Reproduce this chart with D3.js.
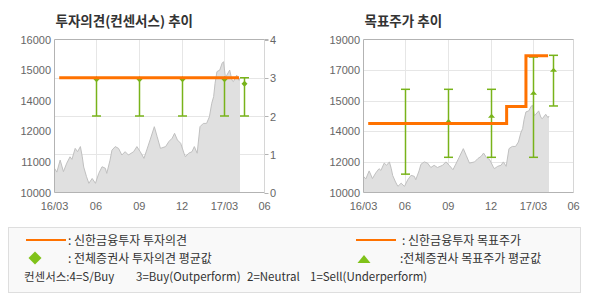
<!DOCTYPE html>
<html><head><meta charset="utf-8">
<script src="https://cdn.jsdelivr.net/npm/d3@7"></script>
<style>
body{margin:0;background:#fff;}
svg{display:block;}
.num{font-family:"Liberation Sans",Arial,sans-serif;font-size:11px;fill:#666;}
.kr{font-family:"Noto Sans CJK KR",sans-serif;}
</style>
</head><body>
<svg id="c" width="590" height="300"></svg>
<script>
// ---- data ----
const priceDates = ["2016-03-05","2016-03-10","2016-03-17","2016-03-24","2016-03-31","2016-04-07","2016-04-11","2016-04-18","2016-04-23","2016-04-29",
"2016-05-03","2016-05-06","2016-05-12","2016-05-17","2016-05-24","2016-05-31","2016-06-07","2016-06-14","2016-06-21","2016-06-24",
"2016-07-01","2016-07-05","2016-07-12","2016-07-19","2016-07-26","2016-08-02","2016-08-09","2016-08-20","2016-08-27","2016-09-03",
"2016-09-11","2016-09-17","2016-09-24","2016-10-03","2016-10-09","2016-10-16","2016-10-27","2016-11-03","2016-11-10","2016-11-15",
"2016-11-21","2016-11-28","2016-12-05","2016-12-08","2016-12-15","2016-12-22","2016-12-27","2017-01-02","2017-01-08","2017-01-15",
"2017-01-22","2017-01-28","2017-02-02","2017-02-06","2017-02-09","2017-02-13","2017-02-19","2017-02-24","2017-02-27","2017-03-03",
"2017-03-06","2017-03-12","2017-03-17","2017-03-20","2017-03-27","2017-04-01","2017-04-03"];
const priceValues = [10950,10800,11270,10820,11150,11400,11300,11730,11600,11800,
11400,11000,10620,10360,10550,10360,10750,11010,10950,10750,
11270,11660,11800,11730,11470,11600,11470,11600,11800,11600,
11340,11670,12060,12580,12190,11730,11800,12000,12130,12320,
12060,11930,11540,11400,11540,11600,11800,11540,12580,12710,
12710,12970,13500,13760,14280,14740,14800,15070,15130,14520,
14600,14800,14400,14350,14600,14400,14500];

const opinionDates = ["2016-03-15","2017-04-01"];
const opinionValues = [3,3];
const targetDates = ["2016-03-15","2017-01-03","2017-02-13","2017-04-01"];
const targetValues = [14060,15060,18050,18050];

const consensusDates = ["2016-06-01","2016-09-01","2016-12-01","2017-03-01","2017-04-12"];
const opinionHigh = [3,3,3,3,3];
const opinionLow = [2,2,2,2,2];
const opinionMean = [2.96,2.96,2.96,2.96,2.84];
const targetHigh = [16070,16070,16070,17970,18070];
const targetLow = [11080,12070,12070,12070,15090];
const targetMean = [14090,14210,14520,15870,17220];

const xDomain = ["2016-03-05","2017-05-25"];
const xTickDates = ["2016-03-05","2016-06-01","2016-09-01","2016-12-01","2017-03-01","2017-05-25"];
const xTickLabels = ["16/03","06","09","12","17/03","06"];
const leftPriceTicks = ["10000","11000","12000","14000","15000","16000"];
const opinionTicks = [0,1,2,3,4];
const rightPriceTicks = ["10000","12000","14000","15000","17000","19000"];

// ---- drawing ----
const parse = d3.timeParse("%Y-%m-%d");
const svg = d3.select("#c");
const ORANGE = "#ff7200", GREEN = "#78b31a", AXIS = "#b3b3b3", GRID = "#e6e6e6";
const yTop = 39.5, yBot = 192.5;

function panel(x0, x1, title, priceDomain, priceTicks) {
  const g = svg.append("g");
  const x = d3.scaleTime().domain(xDomain.map(parse)).range([x0, x1]);
  const y = d3.scaleLinear().domain(priceDomain).range([yBot, yTop]);
  const yl = d3.scalePoint().domain(priceTicks).range([yBot, yTop]);
  g.append("text").attr("class","kr").attr("x", x0 + 1).attr("y", 26)
    .attr("font-size", 13.5).attr("font-weight", "bold").attr("fill", "#333").text(title);
  g.append("g").attr("class","vgrid").selectAll("line").data(xTickDates.slice(1, -1).map(parse)).join("line")
    .attr("x1", d => Math.round(x(d)) + 0.5).attr("x2", d => Math.round(x(d)) + 0.5)
    .attr("y1", yTop).attr("y2", yBot).attr("stroke", GRID);
  g.append("g").selectAll("text").data(xTickDates).join("text").attr("class","num")
    .attr("x", d => x(parse(d))).attr("y", 210).attr("text-anchor", "middle")
    .attr("font-size", 11.5).text((d, i) => xTickLabels[i]);
  const pts = priceDates.map((d, i) => [parse(d), priceValues[i]]);
  g.append("path").attr("class","area").datum(pts)
    .attr("d", d3.area().x(d => x(d[0])).y0(yBot).y1(d => y(d[1])))
    .attr("fill", "#e0e0e0");
  g.append("path").datum(pts)
    .attr("d", d3.line().x(d => x(d[0])).y(d => y(d[1])))
    .attr("fill", "none").attr("stroke", "#c0c0c0").attr("stroke-width", 1);
  g.append("g").selectAll("text").data(priceTicks).join("text").attr("class","num")
    .attr("x", x0 - 3.5).attr("y", d => yl(d) + 4).attr("text-anchor", "end")
    .attr("font-size", 11.5).text(d => d);
  return {g, x, y, yl};
}

// Left panel
const L = panel(54.5, 264.5, "투자의견(컨센서스) 추이", [10000, 16000], leftPriceTicks);
const yo = d3.scaleLinear().domain([0, 4]).range([yBot, yTop]);
L.g.insert("g", ".area").selectAll("line").data(opinionTicks.slice(1, -1)).join("line")
  .attr("x1", 54.5).attr("x2", 268).attr("y1", d => Math.round(yo(d)) + 0.5).attr("y2", d => Math.round(yo(d)) + 0.5)
  .attr("stroke", GRID);
L.g.append("g").selectAll("line").data(opinionTicks).join("line")
  .attr("x1", 264.5).attr("x2", 268.5).attr("y1", d => Math.round(yo(d)) + 0.5).attr("y2", d => Math.round(yo(d)) + 0.5)
  .attr("stroke", AXIS);
L.g.append("g").selectAll("text").data(opinionTicks).join("text").attr("class","num")
  .attr("x", 270).attr("y", d => yo(d) + 4.5).attr("font-size", 12).text(d => d);
L.g.append("path").attr("d", "M54.5,39.5H268.5").attr("stroke", AXIS).attr("fill","none");
L.g.append("path").attr("d", "M264.5,39.5V192.5").attr("stroke", "#d6d6d6").attr("fill","none");
L.g.append("path").attr("d", "M54.5,39.5V192.5H264.5").attr("stroke", AXIS).attr("fill","none");

const diamond = s => `M0,${-s}L${s},0L0,${s}L${-s},0Z`;
const tri = (w, h) => `M0,${-h / 2}L${w / 2},${h / 2}L${-w / 2},${h / 2}Z`;

function errorBars(P, yy, hi, lo, mean, markerPath) {
  const eg = P.g.append("g");
  consensusDates.forEach((d, i) => {
    const cx = Math.round(P.x(parse(d))) + 0.5;
    const yh = yy(hi[i]), ylo = yy(lo[i]);
    eg.append("line").attr("x1", cx).attr("x2", cx).attr("y1", yh).attr("y2", ylo)
      .attr("stroke", GREEN).attr("stroke-width", 1.5);
    [yh, ylo].forEach(v => eg.append("line").attr("x1", cx - 4.5).attr("x2", cx + 4.5)
      .attr("y1", v).attr("y2", v).attr("stroke", GREEN).attr("stroke-width", 1.5));
    eg.append("path").attr("transform", `translate(${cx},${yy(mean[i])})`)
      .attr("d", markerPath).attr("fill", GREEN);
  });
}
errorBars(L, yo, opinionHigh, opinionLow, opinionMean, diamond(3));
L.g.append("path").datum(opinionDates.map((d, i) => [parse(d), opinionValues[i]]))
  .attr("d", d3.line().x(d => L.x(d[0])).y(d => yo(d[1])))
  .attr("fill", "none").attr("stroke", ORANGE).attr("stroke-width", 3);

// Right panel
const R = panel(363.5, 573.5, "목표주가 추이", [10000, 19000], rightPriceTicks);
R.g.insert("g", ".area").selectAll("line").data(rightPriceTicks.slice(1, -1)).join("line")
  .attr("x1", 363.5).attr("x2", 573.5).attr("y1", d => Math.round(R.yl(d)) + 0.5).attr("y2", d => Math.round(R.yl(d)) + 0.5)
  .attr("stroke", GRID);
R.g.append("path").attr("d", "M573.5,39.5V192.5").attr("stroke", "#d6d6d6").attr("fill","none");
R.g.append("path").attr("d", "M363.5,39.5H573.5").attr("stroke", AXIS).attr("fill","none");
R.g.append("path").attr("d", "M363.5,39.5V192.5H573.5").attr("stroke", AXIS).attr("fill","none");
errorBars(R, R.y, targetHigh, targetLow, targetMean, tri(7, 4));
R.g.append("path").datum(targetDates.map((d, i) => [parse(d), targetValues[i]]))
  .attr("d", d3.line().curve(d3.curveStepAfter).x(d => R.x(d[0])).y(d => R.y(d[1])))
  .attr("fill", "none").attr("stroke", ORANGE).attr("stroke-width", 3);

// Legend
const lg = svg.append("g");
lg.append("rect").attr("x", 8.5).attr("y", 227.5).attr("width", 572).attr("height", 65)
  .attr("fill", "#f9f9f9").attr("stroke", "#dedede");
const lt = (x, y, t) => lg.append("text").attr("class", "kr").attr("x", x).attr("y", y)
  .attr("font-size", 12).attr("fill", "#333").text(t);
lg.append("line").attr("x1", 26).attr("x2", 66).attr("y1", 240).attr("y2", 240).attr("stroke", ORANGE).attr("stroke-width", 2);
lt(68, 244.5, ": 신한금융투자 투자의견");
lg.append("line").attr("x1", 356).attr("x2", 396).attr("y1", 240).attr("y2", 240).attr("stroke", ORANGE).attr("stroke-width", 2);
lt(402, 244.5, ": 신한금융투자 목표주가");
lg.append("path").attr("transform", "translate(35,258)").attr("d", diamond(6.5)).attr("fill", "#80c21a");
lt(68, 262.5, ": 전체증권사 투자의견 평균값");
lg.append("path").attr("transform", "translate(364,259)").attr("d", tri(13, 8)).attr("fill", "#80c21a");
lt(400, 262.5, ":전체증권사 목표주가 평균값");
const consensusLabels = ["컨센서스:4=S/Buy", "3=Buy(Outperform)", "2=Neutral", "1=Sell(Underperform)"];
const consensusX = [24, 136, 247, 310];
consensusLabels.forEach((t, i) => lg.append("text").attr("class", "kr").attr("x", consensusX[i]).attr("y", 280.5)
  .attr("font-size", 11.5).attr("fill", "#333").text(t));
</script>
</body></html>
